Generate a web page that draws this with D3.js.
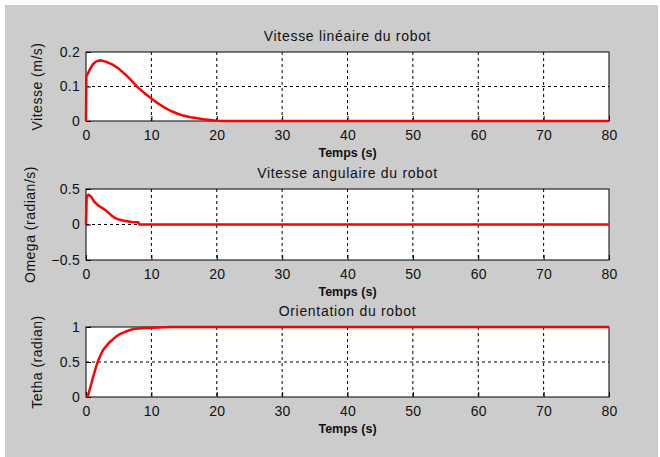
<!DOCTYPE html>
<html>
<head>
<meta charset="utf-8">
<script src="https://cdn.jsdelivr.net/npm/d3@7"></script>
<style>
  body { margin: 0; background: #fff; }
  text { font-family: "Liberation Sans", Arial, sans-serif; fill: #111; }
</style>
</head>
<body>
<div id="chart"></div>
<script>
// time axis shared by all three panels
const xTicks = [0, 10, 20, 30, 40, 50, 60, 70, 80];

// linear speed (m/s) vs time (s)
const vitesseT = [0, 0.05, 0.3, 0.6, 1, 1.5, 2.2, 3, 4, 5, 6, 7, 8, 9, 10, 11, 12, 13, 14, 15, 16, 17, 18, 19, 20, 21, 80];
const vitesseV = [0, 0.13, 0.138, 0.15, 0.163, 0.172, 0.176, 0.172, 0.164, 0.152, 0.135, 0.116, 0.096, 0.08, 0.065, 0.051, 0.039, 0.029, 0.021, 0.015, 0.011, 0.008, 0.005, 0.003, 0.001, 0, 0];
const vitesseTicks = [0, 0.1, 0.2];

// angular speed (rad/s)
const omegaT = [0, 0.1, 0.4, 0.8, 1.2, 1.6, 2, 2.5, 3, 3.5, 4, 4.5, 5, 6, 7, 8, 8.2, 80];
const omegaV = [0, 0.4, 0.42, 0.39, 0.33, 0.29, 0.26, 0.23, 0.2, 0.16, 0.12, 0.09, 0.07, 0.05, 0.035, 0.03, 0, 0];
const omegaTicks = [-0.5, 0, 0.5];

// orientation (rad)
const thetaT = [0, 0.3, 0.7, 1.1, 1.5, 1.9, 2.3, 2.6, 3.2, 3.7, 4.2, 4.7, 5.2, 5.7, 6.5, 7.2, 8, 10, 13, 80];
const thetaV = [0, 0.02, 0.15, 0.29, 0.42, 0.53, 0.61, 0.67, 0.74, 0.79, 0.83, 0.87, 0.9, 0.92, 0.95, 0.97, 0.98, 0.99, 1, 1];
const thetaTicks = [0, 0.5, 1];

const W = 660, H = 457;
const svg = d3.select('#chart').append('svg')
  .attr('width', W)
  .attr('height', H);

svg.append('rect')
  .attr('x', 5).attr('y', 5)
  .attr('width', 653).attr('height', 452)
  .attr('fill', '#cccccc');

const left = 86, right = 609;
const x = d3.scaleLinear().domain([0, 80]).range([left, right]);

const panels = [
  {title: 'Vitesse linéaire du robot', ylabel: 'Vitesse (m/s)', top: 52, bottom: 121,
   domain: [0, 0.2], ticks: vitesseTicks, t: vitesseT, v: vitesseV, ylabx: 42},
  {title: 'Vitesse angulaire du robot', ylabel: 'Omega (radian/s)', top: 189, bottom: 260,
   domain: [-0.5, 0.5], ticks: omegaTicks, t: omegaT, v: omegaV, ylabx: 35},
  {title: 'Orientation du robot', ylabel: 'Tetha (radian)', top: 327, bottom: 397,
   domain: [0, 1], ticks: thetaTicks, t: thetaT, v: thetaV, ylabx: 42}
];

for (let p of panels) {
  let y = d3.scaleLinear().domain(p.domain).range([p.bottom, p.top]);
  let g = svg.append('g');

  g.append('rect')
    .attr('x', left).attr('y', p.top)
    .attr('width', right - left).attr('height', p.bottom - p.top)
    .attr('fill', '#fff');

  // dotted grid
  g.selectAll('.vgrid')
    .data(xTicks.slice(1, -1))
    .join('line')
      .attr('x1', d => x(d)).attr('x2', d => x(d))
      .attr('y1', p.top).attr('y2', p.bottom)
      .attr('stroke', '#000').attr('stroke-width', 1)
      .attr('stroke-dasharray', '3,3');
  g.selectAll('.hgrid')
    .data(p.ticks.slice(1, -1))
    .join('line')
      .attr('x1', left).attr('x2', right)
      .attr('y1', d => y(d)).attr('y2', d => y(d))
      .attr('stroke', '#000').attr('stroke-width', 1)
      .attr('stroke-dasharray', '3,3');

  // axes with inward ticks
  let xax = g.append('g')
    .attr('transform', 'translate(0,' + p.bottom + ')')
    .call(d3.axisBottom(x).tickValues(xTicks).tickSize(-5).tickPadding(9).tickSizeOuter(0));
  let yax = g.append('g')
    .attr('transform', 'translate(' + left + ',0)')
    .call(d3.axisLeft(y).tickValues(p.ticks).tickFormat(d3.format('')).tickSize(-5).tickPadding(6).tickSizeOuter(0));
  for (let ax of [xax, yax]) {
    ax.select('.domain').remove();
    ax.selectAll('line').attr('stroke', '#000');
    ax.selectAll('text')
      .attr('font-size', '14px')
      .attr('letter-spacing', '0.3px')
      .attr('font-family', '"Liberation Sans", Arial, sans-serif')
      .attr('fill', '#222');
  }

  g.append('rect')
    .attr('x', left).attr('y', p.top)
    .attr('width', right - left).attr('height', p.bottom - p.top)
    .attr('fill', 'none').attr('stroke', '#000').attr('stroke-width', 1);

  let line = d3.line()
    .x(i => x(p.t[i]))
    .y(i => y(p.v[i]));
  g.append('path')
    .attr('d', line(d3.range(p.t.length)))
    .attr('fill', 'none')
    .attr('stroke', '#ff0000')
    .attr('stroke-width', 2.5)
    .attr('stroke-linejoin', 'round');

  g.append('text')
    .attr('x', (left + right) / 2).attr('y', p.top - 11)
    .attr('text-anchor', 'middle')
    .attr('font-size', '14px')
    .attr('letter-spacing', '0.7px')
    .text(p.title);
  g.append('text')
    .attr('x', (left + right) / 2).attr('y', p.bottom + 36)
    .attr('text-anchor', 'middle')
    .attr('font-size', '12.5px')
    .attr('font-weight', 'bold')
    .text('Temps (s)');
  g.append('text')
    .attr('transform', 'translate(' + p.ylabx + ',' + (p.top + p.bottom) / 2 + ') rotate(-90)')
    .attr('text-anchor', 'middle')
    .attr('font-size', '14px')
    .attr('letter-spacing', '0.5px')
    .text(p.ylabel);
}
</script>
</body>
</html>
